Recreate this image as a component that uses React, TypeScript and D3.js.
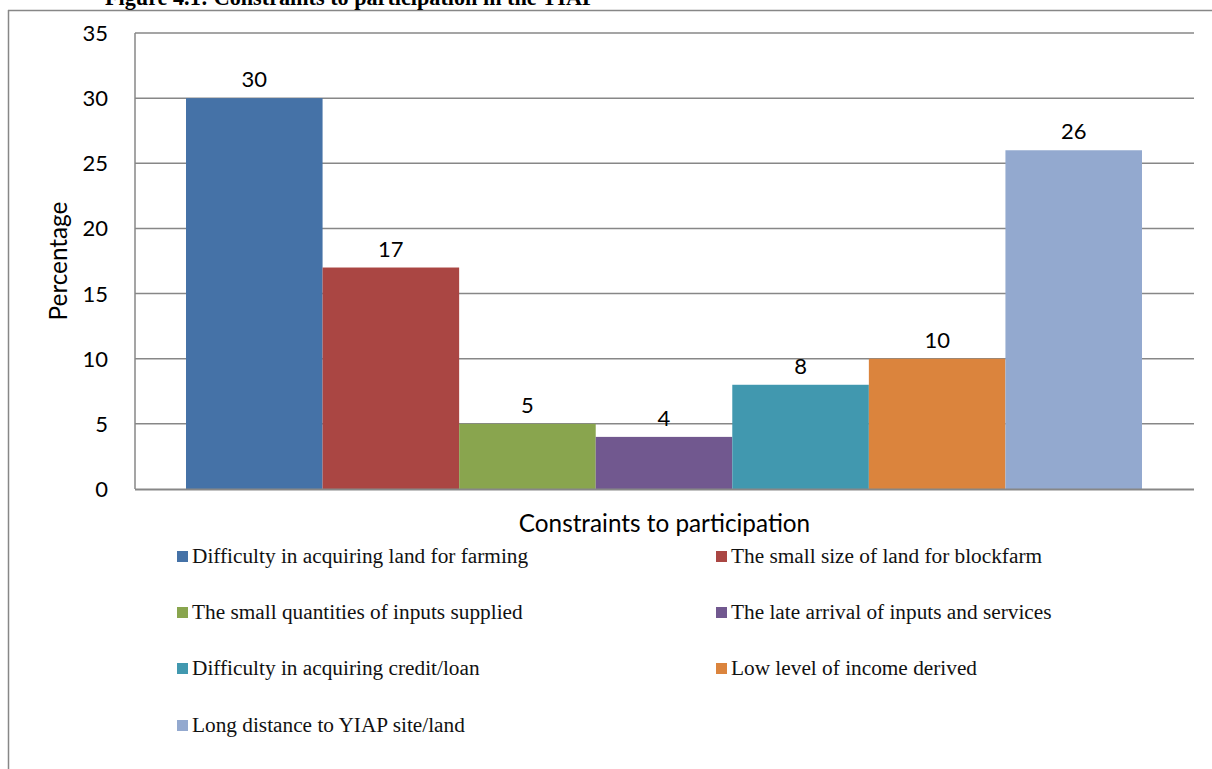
import React, { useEffect, useRef } from "react";
import * as d3 from "d3";

// Constraints to participation in the YIAP (percentages)
const constraints = [
  "Difficulty in acquiring land for farming",
  "The small size of land for blockfarm",
  "The small quantities of inputs supplied",
  "The late arrival of inputs and services",
  "Difficulty in acquiring credit/loan",
  "Low level of income derived",
  "Long distance to YIAP site/land",
];
const percentages = [30, 17, 5, 4, 8, 10, 26];
const colors = ["#4572A7", "#AA4643", "#89A54E", "#71588F", "#4198AF", "#DB843D", "#93A9CF"];
const yTicks = [0, 5, 10, 15, 20, 25, 30, 35];

const W = 1212;
const H = 769;

const App = () => {
  const svgRef = useRef<SVGSVGElement>(null);

  useEffect(() => {
    const svg = d3.select(svgRef.current);
    svg.selectAll("*").remove();

    const sans = "Lato, 'Open Sans', sans-serif";
    const serif = "'Liberation Serif', 'Times New Roman', serif";
    const grid = "#878787";

    const plot = { left: 135, right: 1194, top: 33, bottom: 489 };

    // Outer frame (left + top edges visible)
    svg.append("line").attr("x1", 8.5).attr("x2", 8.5).attr("y1", 10).attr("y2", H)
      .attr("stroke", grid).attr("stroke-width", 1.5);
    svg.append("line").attr("x1", 8).attr("x2", W).attr("y1", 10.5).attr("y2", 10.5)
      .attr("stroke", grid).attr("stroke-width", 1.5);

    // Title, cut by the top of the page
    svg.append("text")
      .attr("x", 105).attr("y", 5)
      .attr("font-family", serif).attr("font-weight", "bold").attr("font-size", 22.2)
      .attr("fill", "#000")
      .text("Figure 4.1: Constraints to participation in the YIAP");

    const y = d3.scaleLinear().domain([0, 35]).range([plot.bottom, plot.top]);
    const x = d3.scaleBand<string>()
      .domain(constraints)
      .range([186, 1142])
      .padding(0);

    // Gridlines
    svg.append("g").selectAll("line")
      .data(yTicks.filter(t => t > 0))
      .enter().append("line")
      .attr("x1", plot.left).attr("x2", plot.right)
      .attr("y1", d => y(d)).attr("y2", d => y(d))
      .attr("stroke", grid).attr("stroke-width", 1.5);

    // Y axis line
    svg.append("line").attr("x1", plot.left).attr("x2", plot.left)
      .attr("y1", plot.top).attr("y2", plot.bottom)
      .attr("stroke", grid).attr("stroke-width", 1.5);

    // Y tick labels
    svg.append("g").selectAll("text")
      .data(yTicks)
      .enter().append("text")
      .attr("x", 108).attr("y", d => y(d) + 8)
      .attr("text-anchor", "end")
      .attr("font-family", sans).attr("font-size", 22).attr("fill", "#000")
      .text(d => d);

    // Bars
    svg.append("g").selectAll("rect")
      .data(constraints)
      .enter().append("rect")
      .attr("x", d => x(d)!)
      .attr("y", (d, i) => y(percentages[i]))
      .attr("width", x.bandwidth())
      .attr("height", (d, i) => y(0) - y(percentages[i]))
      .attr("fill", (d, i) => colors[i]);

    // X axis line
    svg.append("line").attr("x1", plot.left).attr("x2", plot.right)
      .attr("y1", plot.bottom + 0.5).attr("y2", plot.bottom + 0.5)
      .attr("stroke", grid).attr("stroke-width", 2);

    // Data labels
    svg.append("g").selectAll("text")
      .data(constraints)
      .enter().append("text")
      .attr("x", d => x(d)! + x.bandwidth() / 2)
      .attr("y", (d, i) => y(percentages[i]) - 11)
      .attr("text-anchor", "middle")
      .attr("font-family", sans).attr("font-size", 22).attr("fill", "#000")
      .text((d, i) => percentages[i]);

    // Axis titles
    svg.append("text")
      .attr("x", (plot.left + plot.right) / 2).attr("y", 532)
      .attr("text-anchor", "middle")
      .attr("font-family", sans).attr("font-size", 24.3).attr("fill", "#000")
      .text("Constraints to participation");

    svg.append("text")
      .attr("transform", `translate(67,${(plot.top + plot.bottom) / 2}) rotate(-90)`)
      .attr("text-anchor", "middle")
      .attr("font-family", sans).attr("font-size", 24.3).attr("fill", "#000")
      .text("Percentage");

    // Legend, two columns
    const colX = [177, 716];
    const rowY = [551, 607, 663, 720];
    const item = svg.append("g").selectAll("g")
      .data(constraints)
      .enter().append("g")
      .attr("transform", (d, i) => `translate(${colX[i % 2]},${rowY[Math.floor(i / 2)]})`);

    item.append("rect")
      .attr("width", 11).attr("height", 11)
      .attr("fill", (d, i) => colors[i]);

    item.append("text")
      .attr("x", 15).attr("y", 12)
      .attr("font-family", serif).attr("font-size", 21.3).attr("fill", "#111")
      .text(d => d);
  }, []);

  return (
    <svg
      ref={svgRef}
      width={W}
      height={H}
      style={{ position: "absolute", left: 0, top: 0, background: "#fff" }}
    />
  );
};

export default App;
